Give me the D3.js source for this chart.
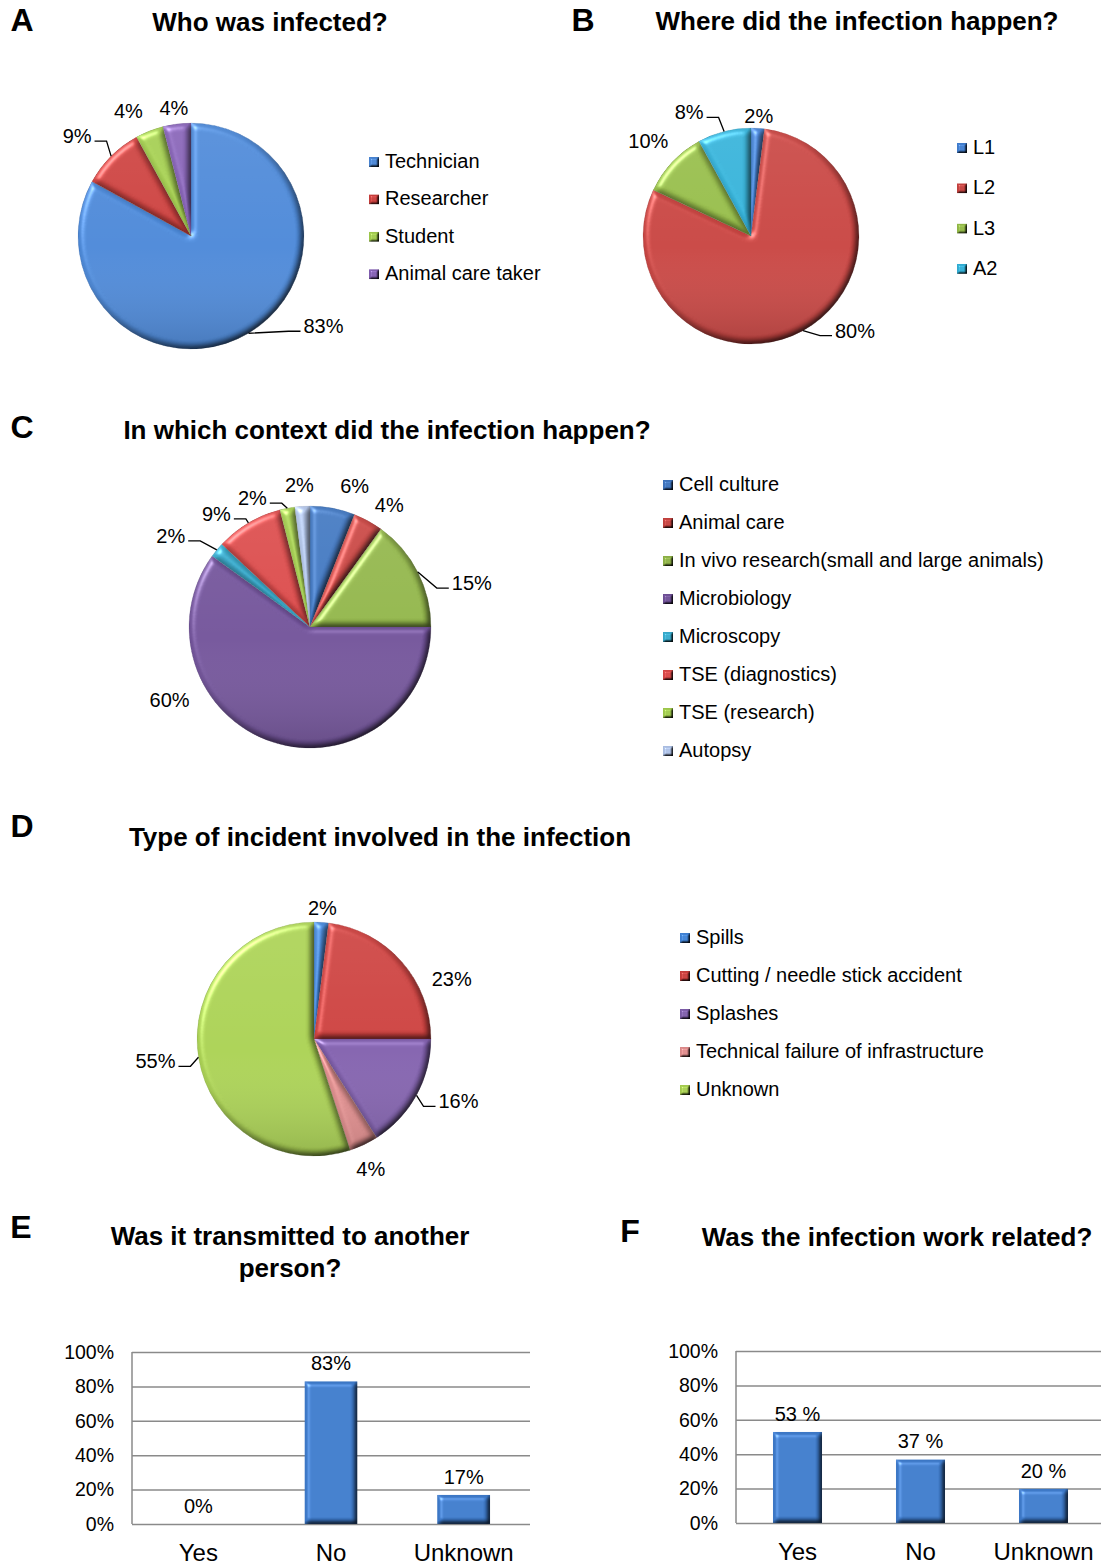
<!DOCTYPE html>
<html>
<head>
<meta charset="utf-8">
<script src="https://cdn.jsdelivr.net/npm/d3@7"></script>
<style>
  html, body { margin: 0; padding: 0; background: #ffffff; }
  svg { display: block; font-family: "Liberation Sans", Arial, sans-serif; }
</style>
</head>
<body>
<svg id="chart" width="1101" height="1568"></svg>
<script>
// ---- Data ----
const whoLabels = ["Technician", "Researcher", "Student", "Animal care taker"];
const whoValues = [83, 9, 4, 4];

const whereLabels = ["L1", "L2", "L3", "A2"];
const whereValues = [2, 80, 10, 8];

const contextLabels = ["Cell culture", "Animal care", "In vivo research(small and large animals)",
  "Microbiology", "Microscopy", "TSE (diagnostics)", "TSE (research)", "Autopsy"];
const contextValues = [6, 4, 15, 60, 2, 9, 2, 2];

const incidentLabels = ["Spills", "Cutting / needle stick accident", "Splashes",
  "Technical failure of infrastructure", "Unknown"];
const incidentValues = [2, 23, 16, 4, 55];

const answerCategories = ["Yes", "No", "Unknown"];
const transmittedValues = [0, 83, 17];
const workRelatedValues = [53, 37, 20];
const percentTicks = [0, 20, 40, 60, 80, 100];

// ---- Setup ----
const svg = d3.select("#chart");
const defs = svg.append("defs");

// Soft bevel used on slices, bars and legend keys
function addBevel(id, blur, scale, spec) {
  const f = defs.append("filter").attr("id", id)
    .attr("color-interpolation-filters", "sRGB")
    .attr("x", "-10%").attr("y", "-10%").attr("width", "120%").attr("height", "120%");
  f.append("feGaussianBlur").attr("in", "SourceAlpha").attr("stdDeviation", blur).attr("result", "b");
  f.append("feDiffuseLighting").attr("in", "b").attr("surfaceScale", scale)
    .attr("diffuseConstant", 1.3).attr("lighting-color", "#ffffff").attr("result", "d")
    .append("feDistantLight").attr("azimuth", 225).attr("elevation", 50);
  f.append("feComposite").attr("in", "SourceGraphic").attr("in2", "d")
    .attr("operator", "arithmetic").attr("k1", 1).attr("k2", 0).attr("k3", 0).attr("k4", 0)
    .attr("result", "lit");
  f.append("feSpecularLighting").attr("in", "b").attr("surfaceScale", scale)
    .attr("specularConstant", spec).attr("specularExponent", 35).attr("lighting-color", "#ffffff")
    .attr("result", "s")
    .append("feDistantLight").attr("azimuth", 225).attr("elevation", 50);
  f.append("feComposite").attr("in", "s").attr("in2", "SourceAlpha").attr("operator", "in").attr("result", "s2");
  f.append("feComposite").attr("in", "lit").attr("in2", "s2")
    .attr("operator", "arithmetic").attr("k1", 0).attr("k2", 1).attr("k3", 1).attr("k4", 0)
    .attr("result", "out");
  f.append("feComposite").attr("in", "out").attr("in2", "SourceAlpha").attr("operator", "in");
}
addBevel("bevel", 3, 3, 0.4);
addBevel("bevelBar", 2.5, 3, 0.4);
addBevel("bevelKey", 1, 2, 0.3);

const shade = defs.append("linearGradient").attr("id", "pieShade")
  .attr("x1", 0).attr("y1", 0).attr("x2", 0).attr("y2", 1);
shade.append("stop").attr("offset", "0%").attr("stop-color", "#ffffff").attr("stop-opacity", 0.06);
shade.append("stop").attr("offset", "55%").attr("stop-color", "#ffffff").attr("stop-opacity", 0);
shade.append("stop").attr("offset", "100%").attr("stop-color", "#000000").attr("stop-opacity", 0.14);

// ---- Headings ----
function heading(letter, lx, ly, lines, tx, ty) {
  svg.append("text").attr("x", lx).attr("y", ly).attr("dy", "0.35em")
    .attr("text-anchor", "middle").attr("font-size", 32).attr("font-weight", "bold")
    .attr("fill", "#000").text(letter);
  lines.forEach((line, i) => {
    svg.append("text").attr("x", tx).attr("y", ty + i * 32).attr("dy", "0.35em")
      .attr("text-anchor", "middle").attr("font-size", 26).attr("font-weight", "bold")
      .attr("fill", "#000").text(line);
  });
}

// ---- Legend ----
function legend(x, y0, step, labels, colors) {
  const g = svg.append("g");
  labels.forEach((lab, i) => {
    const y = y0 + i * step;
    g.append("rect").attr("x", x - 16).attr("y", y - 4).attr("width", 10).attr("height", 10)
      .attr("fill", colors[i]).attr("filter", "url(#bevelKey)");
    g.append("text").attr("x", x).attr("y", y).attr("dy", "0.35em")
      .attr("font-size", 20).attr("fill", "#000").text(lab);
  });
}

// ---- Pie ----
function pie(o) {
  const g = svg.append("g").attr("transform", `translate(${o.cx},${o.cy})`);
  const arcs = d3.pie().sort(null).value(d => d)(o.values);
  const arc = d3.arc().innerRadius(0).outerRadius(o.r);
  g.selectAll("path.slice").data(arcs).join("path")
    .attr("class", "slice")
    .attr("d", arc)
    .attr("fill", (d, i) => o.colors[i])
    .attr("stroke", (d, i) => d3.color(o.colors[i]).darker(0.4))
    .attr("stroke-width", 0.6)
    .attr("filter", "url(#bevel)");
  g.append("circle").attr("r", o.r).attr("fill", "url(#pieShade)").attr("pointer-events", "none");

  const labels = g.append("g");
  arcs.forEach((d, i) => {
    const mid = (d.startAngle + d.endAngle) / 2;
    const px = o.r * Math.sin(mid), py = -o.r * Math.cos(mid);
    const [dx, dy, lead] = o.nudges[i];
    const lx = px + dx, ly = py + dy;
    const t = labels.append("text").attr("x", lx).attr("y", ly).attr("dy", "0.35em")
      .attr("text-anchor", "middle").attr("font-size", 20).attr("fill", "#000")
      .text(o.values[i] + "%");
    if (lead) {
      const w = t.node().getComputedTextLength();
      const side = dx > 0 ? -1 : 1;               // leader enters label from the side facing the pie
      const edgeX = lx + side * (w / 2 + 3);
      const yy = ly + 5;
      let elbowX = edgeX + side * 12;
      if ((side < 0 && elbowX < px) || (side > 0 && elbowX > px)) elbowX = px;
      labels.append("path")
        .attr("d", `M${px},${py}L${elbowX},${yy}L${edgeX},${yy}`)
        .attr("fill", "none").attr("stroke", "#000").attr("stroke-width", 1.3);
    }
  });
}

// ---- Bars ----
function bars(o) {
  const g = svg.append("g");
  const x = d3.scaleBand().domain(answerCategories).range([o.left, o.right])
    .paddingInner(0.6).paddingOuter(0.3);
  const y = d3.scaleLinear().domain([0, 100]).range([o.bottom, o.top]);

  const grid = g.append("g").attr("transform", `translate(${o.left},0)`)
    .call(d3.axisLeft(y).tickValues(percentTicks).tickSize(-(o.gridRight - o.left))
      .tickFormat(d => d + "%").tickPadding(18));
  grid.select(".domain").remove();
  grid.selectAll(".tick line").attr("stroke", "#8a8a8a").attr("stroke-width", 1.5);
  grid.selectAll(".tick text").attr("font-size", 19.5).attr("fill", "#000")
    .attr("font-family", "'Liberation Sans', Arial, sans-serif");
  g.append("line").attr("x1", o.left).attr("x2", o.left).attr("y1", y(100)).attr("y2", y(0))
    .attr("stroke", "#8a8a8a").attr("stroke-width", 1.5);

  g.selectAll("rect.bar").data(o.values).join("rect").attr("class", "bar")
    .attr("x", (d, i) => x(answerCategories[i]))
    .attr("width", x.bandwidth())
    .attr("y", d => y(d))
    .attr("height", d => y(0) - y(d))
    .attr("fill", "#3b76c4")
    .attr("filter", "url(#bevelBar)");

  g.selectAll("text.val").data(o.values).join("text").attr("class", "val")
    .attr("x", (d, i) => x(answerCategories[i]) + x.bandwidth() / 2)
    .attr("y", d => y(d) - 18).attr("dy", "0.35em")
    .attr("text-anchor", "middle").attr("font-size", 20).attr("fill", "#000")
    .text(d => d + o.suffix);

  g.selectAll("text.cat").data(answerCategories).join("text").attr("class", "cat")
    .attr("x", d => x(d) + x.bandwidth() / 2)
    .attr("y", o.bottom + 29).attr("dy", "0.35em")
    .attr("text-anchor", "middle").attr("font-size", 24).attr("fill", "#000")
    .text(d => d);
}

// ---- A: who ----
const whoColors = ["#4782cf", "#c43c3a", "#9cc54a", "#7f5cae"];
heading("A", 22, 20, ["Who was infected?"], 270, 22);
pie({
  cx: 191, cy: 236, r: 113, values: whoValues, colors: whoColors,
  nudges: [[75, -7, true], [-34, -20, true], [-21, -20, false], [-3, -16, false]]
});
legend(385, 161, 37.4, whoLabels, whoColors);

// ---- B: where ----
const whereColors = ["#3f7bcb", "#c0403d", "#8fb544", "#2faad0"];
heading("B", 583, 20, ["Where did the infection happen?"], 857, 21);
pie({
  cx: 751, cy: 236, r: 108, values: whereValues, colors: whereColors,
  nudges: [[1, -12, false], [52, 0, true], [-24, -21, false], [-35, -19, true]]
});
legend(973, 147, 40.3, whereLabels, whereColors);

// ---- C: context ----
const contextColors = ["#3b70b8", "#c0403d", "#8bae45", "#6c4e93", "#35a6c7", "#d24545", "#9cc54a", "#a9bce0"];
heading("C", 22, 427, ["In which context did the infection happen?"], 387, 430);
pie({
  cx: 310, cy: 627, r: 121, values: contextValues, colors: contextColors,
  nudges: [[22, -22, false], [21, -16, false], [54, 11, true], [-103, -42, false],
           [-46, -14, true], [-32, -9, true], [-35, -10, true], [-3, -21, false]]
});
legend(679, 484, 38, contextLabels, contextColors);

// ---- D: incident ----
const incidentColors = ["#3e7fd0", "#c43c3a", "#7b5ba6", "#d98888", "#a3c94e"];
heading("D", 22, 826, ["Type of incident involved in the infection"], 380, 837);
pie({
  cx: 314, cy: 1039, r: 117, values: incidentValues, colors: incidentColors,
  nudges: [[1, -14, false], [50, 17, false], [42, 6, true], [7, 24, false], [-43, 4, true]]
});
legend(696, 937, 38, incidentLabels, incidentColors);

// ---- E: transmission ----
heading("E", 21, 1227, ["Was it transmitted to another", "person?"], 290, 1236);
bars({ left: 132, right: 530, gridRight: 530, top: 1352, bottom: 1524,
       values: transmittedValues, suffix: "%" });

// ---- F: work related ----
heading("F", 630, 1231, ["Was the infection work related?"], 897, 1237);
bars({ left: 736, right: 1105, gridRight: 1101, top: 1351, bottom: 1523,
       values: workRelatedValues, suffix: " %" });
</script>
</body>
</html>
